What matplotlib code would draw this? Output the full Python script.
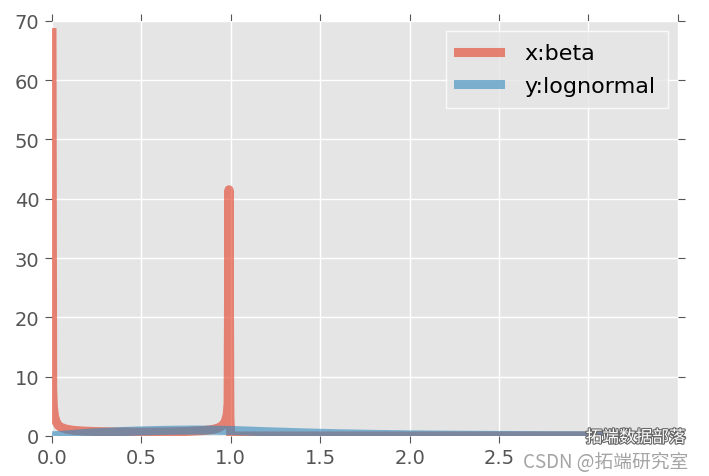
import matplotlib
matplotlib.use("Agg")
import matplotlib.pyplot as plt
import matplotlib.patheffects as pe

# x:beta series
beta_x = [0.0, 0.004, 0.008, 0.015, 0.025, 0.035, 0.05, 0.08, 0.12, 0.18, 0.25, 0.35,
          0.5, 0.65, 0.75, 0.85, 0.9, 0.93, 0.955, 0.97, 0.98, 0.985, 0.99, 0.995,
          1.0, 1.5, 2.0, 2.5, 3.0, 3.22]
beta_y = [68.0, 8.0, 4.8, 3.2, 2.3, 1.8, 1.45, 1.15, 0.95, 0.82, 0.74, 0.68,
          0.64, 0.68, 0.76, 0.92, 1.1, 1.35, 1.8, 2.5, 3.6, 5.5, 41.5, 3.0,
          0.0, 0.0, 0.0, 0.0, 0.0, 0.0]

# y:lognormal series
logn_x = [0.0, 0.05, 0.1, 0.2, 0.3, 0.4, 0.5, 0.6, 0.7, 0.8, 0.9, 1.0, 1.1, 1.2,
          1.4, 1.6, 1.8, 2.0, 2.25, 2.5, 2.75, 3.0, 3.22]
logn_y = [0.03, 0.1, 0.22, 0.45, 0.62, 0.76, 0.86, 0.93, 0.98, 1.0, 0.98, 0.93, 0.83, 0.72,
          0.53, 0.38, 0.27, 0.19, 0.13, 0.09, 0.06, 0.04, 0.03]

series_labels = ["x:beta", "y:lognormal"]
x_ticks = [0.0, 0.5, 1.0, 1.5, 2.0, 2.5, 3.0, 3.5]
x_tick_labels = ["0.0", "0.5", "1.0", "1.5", "2.0", "2.5", "", ""]
y_ticks = [0, 10, 20, 30, 40, 50, 60, 70]

fig = plt.figure(figsize=(7.09, 4.77), dpi=100)
ax = fig.add_axes([0.0733, 0.0839, 0.8827, 0.8706])
ax.set_facecolor("#E5E5E5")
for s in ax.spines.values():
    s.set_visible(False)
ax.grid(True, color="white", linewidth=1.0)
ax.set_axisbelow(True)

ax.plot(beta_x, beta_y, color="#E24A33", alpha=0.65, linewidth=6.5, label=series_labels[0])
ax.plot(logn_x, logn_y, color="#348ABD", alpha=0.6, linewidth=6.5, label=series_labels[1])

ax.set_xlim(0, 3.5)
ax.set_ylim(0, 70)
ax.set_xticks(x_ticks)
ax.set_yticks(y_ticks)
ax.set_xticklabels(x_tick_labels)
ax.set_yticklabels([str(v) for v in y_ticks])
ax.tick_params(axis="both", which="both", direction="out", length=5, width=0.8,
               color="#555555", labelcolor="#555555", labelsize=14,
               top=True, right=True, pad=4)

leg = ax.legend(loc="upper right", fontsize=16, frameon=True, handlelength=1.9,
                borderpad=0.55, labelspacing=0.55, handletextpad=1.1,
                borderaxespad=0.0, bbox_to_anchor=(0.984, 0.975))
leg.get_frame().set_facecolor("#E5E5E5")
leg.get_frame().set_edgecolor("white")
leg.get_frame().set_linewidth(1.0)
leg.get_frame().set_boxstyle("square", pad=0)

# watermark texts
fig.text(0.826, 0.080, "拓端数据部落", fontsize=12, color="white",
         family=["Noto Sans CJK SC", "DejaVu Sans"], ha="left", va="center",
         path_effects=[pe.withStroke(linewidth=1.6, foreground="#666666")])
fig.text(0.737, 0.031, "CSDN @拓端研究室", fontsize=13.5, color="#9a9a9a", alpha=0.9,
         family=["Noto Sans CJK SC", "DejaVu Sans"], ha="left", va="center")

fig.savefig("out.png", dpi=100)
